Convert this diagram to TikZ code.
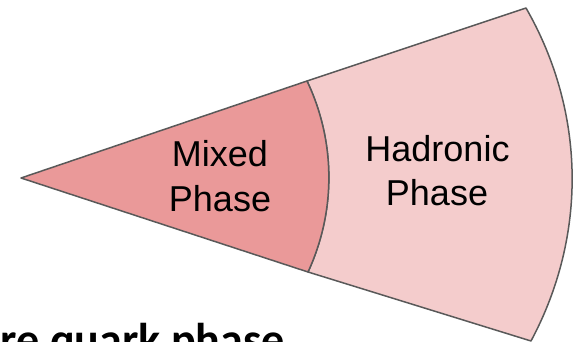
\documentclass[tikz,border=0pt]{standalone}
\usepackage{fontspec}
\setmainfont{Liberation Sans}
\newfontfamily\calib{Carlito}
\definecolor{mixedfill}{HTML}{EA9999}
\definecolor{hadrfill}{HTML}{F4CCCC}
\definecolor{edgecol}{HTML}{595959}
\begin{document}
\begin{tikzpicture}[x=1pt,y=1pt,
  region/.style={draw=edgecol,line width=1.5pt,line join=round},
  lbl/.style={font=\fontsize{36}{44}\selectfont,anchor=base,inner sep=0pt}]
\useasboundingbox (0,0) rectangle (581,342);
\coordinate (A) at (21,164);
\coordinate (I1) at (307,261);
\coordinate (I2) at (308,70);
\coordinate (O1) at (526,334);
\coordinate (O2) at (531,1);
\path[region,fill=hadrfill] (I1) -- (O1) to[bend left=29,looseness=0.92] (O2) -- (I2) to[bend right=25,looseness=0.9] (I1) -- cycle;
\path[region,fill=mixedfill] (A) -- (I1) to[bend left=25,looseness=0.9] (I2) -- cycle;
\node[lbl] (m1) at (220,175.3) {Mixed};
\node[lbl] (m2) at (220,130.3) {Phase};
\node[lbl] (h1) at (437.5,180.3) {Hadronic};
\node[lbl] (h2) at (437,136) {Phase};
\node[font=\calib\bfseries\fontsize{46}{50}\selectfont,anchor=base east,inner sep=0pt] (q) at (285,-14) {re quark phase};
\end{tikzpicture}
\end{document}
